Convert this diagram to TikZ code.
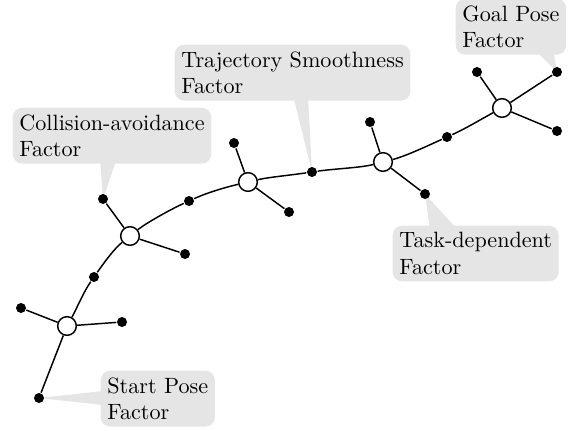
\documentclass[tikz,border=0pt]{standalone}
\usepackage{amsmath}
\usepackage{xcolor}
\usepackage{fontspec}
\usepackage{tikz}
\usetikzlibrary{backgrounds}

\newfontfamily\labelfont{lmroman10-regular}[Extension=.otf]

\begin{document}
\begin{tikzpicture}[x=0.75pt,y=0.75pt,yscale=-1,xscale=1,
  var/.style={circle,draw,fill=white,line width=1.1pt,minimum size=14pt,inner sep=0pt},
  fac/.style={circle,fill=black,minimum size=7.5pt,inner sep=0pt},
  bubble/.style={fill=gray!20,rounded corners=7pt,inner sep=5pt,align=left,anchor=north west,font=\labelfont\fontsize{16.6}{20}\selectfont},
  every path/.style={line width=1.1pt}]

\useasboundingbox (0,0) rectangle (574,430);

% variables along the trajectory
\node [var] (x1) at (67,326) {};
\node [var] (x2) at (130,236) {};
\node [var] (x3) at (248,182) {};
\node [var] (x4) at (383,162) {};
\node [var] (x5) at (502,108) {};

% smoothness factors
\node [fac] (s12) at (94,277) {};
\node [fac] (s23) at (189,201) {};
\node [fac] (s34) at (312,172) {};
\node [fac] (s45) at (447,137) {};

% unary factors
\node [fac] (start) at (39,398) {};
\node [fac] (a1) at (21,308) {};
\node [fac] (b1) at (122,322) {};
\node [fac] (coll) at (103,199) {};
\node [fac] (b2) at (185,254) {};
\node [fac] (a3) at (234,143) {};
\node [fac] (b3) at (289,212) {};
\node [fac] (a4) at (370,122) {};
\node [fac] (task) at (425,194) {};
\node [fac] (a5) at (477,72) {};
\node [fac] (goal) at (557,72) {};
\node [fac] (b5) at (557,131) {};

\draw (x1) .. controls +(9,-16) and +(-10.5,15) .. (s12);
\draw (s12) .. controls +(10.5,-15) and +(-15.8,12.7) .. (x2);
\draw (x2) .. controls +(15.8,-12.7) and +(-19.7,9) .. (s23);
\draw (s23) .. controls +(19.7,-9) and +(-20.5,4.8) .. (x3);
\draw (x3) .. controls +(20.5,-4.8) and +(-22.5,3.3) .. (s34);
\draw (s34) .. controls +(22.5,-3.3) and +(-22.5,5.8) .. (x4);
\draw (x4) .. controls +(22.5,-5.8) and +(-19.8,9) .. (s45);
\draw (s45) .. controls +(19.8,-9) and +(-18.3,9.7) .. (x5);

\draw (x1) -- (start);
\draw (x1) -- (a1);
\draw (x1) -- (b1);
\draw (x2) -- (coll);
\draw (x2) -- (b2);
\draw (x3) -- (a3);
\draw (x3) -- (b3);
\draw (x4) -- (a4);
\draw (x4) -- (task);
\draw (x5) -- (a5);
\draw (x5) -- (goal);
\draw (x5) -- (b5);

% callouts
\begin{pgfonlayer}{background}
\node [bubble] (lstart) at (100,370) {Start Pose\\Factor};
\fill [gray!20] (103,391) -- (103,405) -- (start.center) -- cycle;

\node [bubble] (lcoll) at (12,107) {Collision-avoidance\\Factor};
\fill [gray!20] (100,158) -- (117,158) -- (coll.center) -- cycle;

\node [bubble] (lsmooth) at (174,44) {Trajectory Smoothness\\Factor};
\fill [gray!20] (293,95) -- (308,95) -- (s34.center) -- cycle;

\node [bubble] (lgoal) at (455,-2) {Goal Pose\\Factor};
\fill [gray!20] (533,48) -- (553,48) -- (goal.center) -- cycle;

\node [bubble] (ltask) at (392,225) {Task-dependent\\Factor};
\fill [gray!20] (430,230) -- (458,230) -- (task.center) -- cycle;
\end{pgfonlayer}

\end{tikzpicture}
\end{document}
